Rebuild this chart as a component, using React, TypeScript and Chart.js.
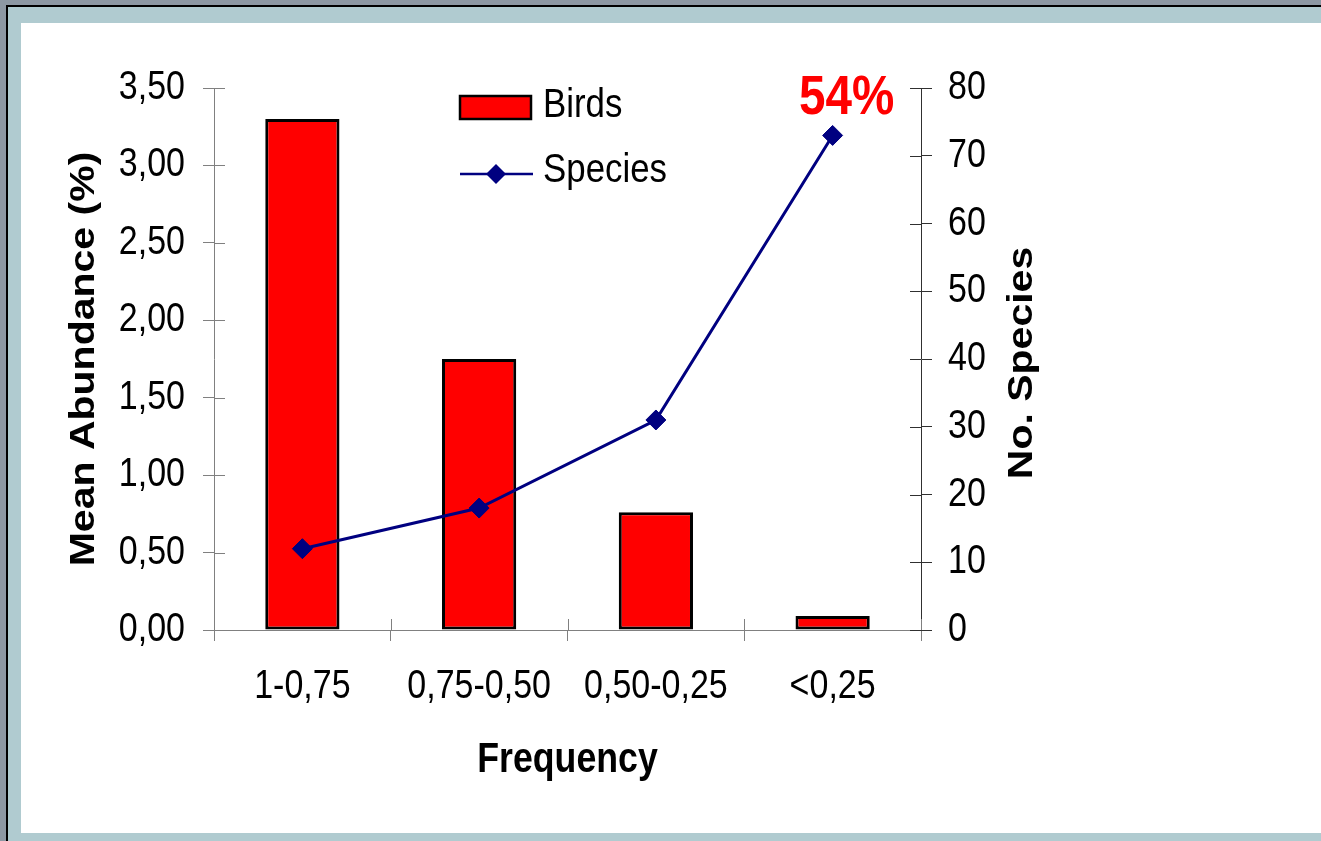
import React, { useEffect, useRef } from "react";
import { Chart, registerables } from "chart.js";

Chart.register(...registerables);

const categories = ["1-0,75", "0,75-0,50", "0,50-0,25", "<0,25"];
const birds = [3.3, 1.75, 0.76, 0.09];
const species = [12, 18, 31, 73];
const abundanceMin = 0;
const abundanceMax = 3.5;
const abundanceStep = 0.5;
const speciesMin = 0;
const speciesMax = 80;
const speciesStep = 10;
const highlightLabel = "54%";
const xTitle = "Frequency";
const yTitle = "Mean Abundance (%)";
const y1Title = "No. Species";
const legendLabels = ["Birds", "Species"];

const SANS = '"Liberation Sans", Arial, sans-serif';
const NAVY = "#000080";
const RED = "#ff0000";
const SQUISH = 0.85;

// Condensed text: every horizontal label is drawn 85% as wide, like the original.
const condensePlugin = {
  id: "condense",
  beforeDraw(chart: any) {
    const ctx = chart.ctx;
    if (ctx.__origFillText) return;
    const orig = ctx.fillText.bind(ctx);
    ctx.__origFillText = orig;
    ctx.fillText = (text: string, x: number, y: number) => {
      ctx.save();
      ctx.translate(x, y);
      ctx.scale(SQUISH, 1);
      orig(text, 0, 0);
      ctx.restore();
    };
  },
};

const decorPlugin = {
  id: "decor",
  afterDraw(chart: any) {
    const { ctx, chartArea } = chart;
    const sy = chart.scales.y;
    const sy1 = chart.scales.y1;
    const sx = chart.scales.x;
    ctx.save();
    ctx.lineWidth = 1;
    ctx.strokeStyle = "#808080";
    sy.ticks.forEach((t: any, i: number) => {
      const y = Math.round(sy.getPixelForTick(i)) + 0.5;
      ctx.beginPath();
      ctx.moveTo(chartArea.left, y);
      ctx.lineTo(chartArea.left + 11, y);
      ctx.stroke();
    });
    ctx.strokeStyle = "#303030";
    sy1.ticks.forEach((t: any, i: number) => {
      const y = Math.round(sy1.getPixelForTick(i)) + 0.5;
      ctx.beginPath();
      ctx.moveTo(chartArea.right - 11, y);
      ctx.lineTo(chartArea.right, y);
      ctx.stroke();
    });
    ctx.strokeStyle = "#808080";
    const n = sx.ticks.length;
    for (let i = 0; i <= n; i++) {
      const x = Math.round(sx.left + ((sx.right - sx.left) * i) / n) + 0.5;
      ctx.beginPath();
      ctx.moveTo(x, chartArea.bottom - 11);
      ctx.lineTo(x, chartArea.bottom);
      ctx.stroke();
    }

    const meta = chart.getDatasetMeta(1);
    const last = meta.data[meta.data.length - 1];
    ctx.fillStyle = RED;
    ctx.font = `bold 56px ${SANS}`;
    ctx.textAlign = "center";
    ctx.textBaseline = "alphabetic";
    ctx.fillText(highlightLabel, last.x + 14, last.y - 21);

    const lx = 439;
    ctx.fillStyle = RED;
    ctx.fillRect(lx, 73, 71, 23);
    ctx.strokeStyle = "#000";
    ctx.lineWidth = 2.5;
    ctx.strokeRect(lx, 73, 71, 23);
    ctx.strokeStyle = NAVY;
    ctx.lineWidth = 2.5;
    ctx.beginPath();
    ctx.moveTo(lx, 151);
    ctx.lineTo(lx + 73, 151);
    ctx.stroke();
    ctx.fillStyle = NAVY;
    ctx.beginPath();
    ctx.moveTo(lx + 36, 141);
    ctx.lineTo(lx + 46, 151);
    ctx.lineTo(lx + 36, 161);
    ctx.lineTo(lx + 26, 151);
    ctx.closePath();
    ctx.fill();
    ctx.fillStyle = "#000";
    ctx.font = `41px ${SANS}`;
    ctx.textAlign = "left";
    ctx.textBaseline = "middle";
    ctx.fillText(legendLabels[0], 522, 83);
    ctx.fillText(legendLabels[1], 522, 148);

    const orig = ctx.__origFillText || ctx.fillText.bind(ctx);
    const cy = (chartArea.top + chartArea.bottom) / 2;
    ctx.font = `bold 41px ${SANS}`;
    ctx.textAlign = "center";
    ctx.textBaseline = "middle";
    ctx.save();
    ctx.translate(63, cy);
    ctx.rotate(-Math.PI / 2);
    ctx.scale(1, SQUISH);
    orig(yTitle, 0, 0);
    ctx.restore();
    ctx.save();
    ctx.translate(1001, cy + 4);
    ctx.rotate(-Math.PI / 2);
    ctx.scale(1, SQUISH);
    orig(y1Title, 0, 0);
    ctx.restore();
    ctx.restore();
  },
};

function ChartView() {
  const ref = useRef<HTMLCanvasElement | null>(null);
  useEffect(() => {
    if (!ref.current) return;
    const tickFont = { family: SANS, size: 40 };
    const chart = new Chart(ref.current, {
      type: "bar",
      data: {
        labels: categories,
        datasets: [
          {
            type: "bar",
            label: legendLabels[0],
            data: birds,
            yAxisID: "y",
            backgroundColor: RED,
            borderColor: "#000",
            borderWidth: 3,
            borderSkipped: false,
            barPercentage: 0.42,
            categoryPercentage: 1,
            order: 2,
          } as any,
          {
            type: "line",
            label: legendLabels[1],
            data: species,
            yAxisID: "y1",
            borderColor: NAVY,
            borderWidth: 3,
            backgroundColor: NAVY,
            pointStyle: "rectRot",
            pointRadius: 10,
            pointBackgroundColor: NAVY,
            pointBorderColor: NAVY,
            pointBorderWidth: 1,
            tension: 0,
            fill: false,
            order: 1,
          } as any,
        ],
      },
      options: {
        responsive: false,
        maintainAspectRatio: false,
        animation: false,
        events: [],
        layout: { padding: { top: 65, left: 0, right: 0, bottom: 0 } },
        plugins: { legend: { display: false }, tooltip: { enabled: false } },
        scales: {
          x: {
            type: "category",
            offset: true,
            grid: { offset: true, drawOnChartArea: false, tickLength: 11, color: "#808080", lineWidth: 1 },
            border: { color: "#808080", width: 1 },
            ticks: { color: "#000", font: tickFont, padding: 22, maxRotation: 0, autoSkip: false },
            title: {
              display: true,
              text: xTitle,
              color: "#000",
              font: { family: SANS, size: 42, weight: "bold" },
              padding: { top: 0, bottom: 47 },
            },
            afterFit: (s: any) => {
              s.height = 203;
            },
          },
          y: {
            type: "linear",
            position: "left",
            min: abundanceMin,
            max: abundanceMax,
            grid: { drawOnChartArea: false, tickLength: 11, color: "#808080" },
            border: { color: "#808080", width: 1 },
            ticks: {
              stepSize: abundanceStep,
              color: "#000",
              font: tickFont,
              padding: 18,
              callback: (v: any) => Number(v).toFixed(2).replace(".", ","),
            },
            afterFit: (s: any) => {
              s.width = 193;
            },
          },
          y1: {
            type: "linear",
            position: "right",
            min: speciesMin,
            max: speciesMax,
            grid: { drawOnChartArea: false, tickLength: 11, color: "#303030" },
            border: { color: "#303030", width: 1 },
            ticks: { stepSize: speciesStep, color: "#000", font: tickFont, padding: 16 },
            afterFit: (s: any) => {
              s.width = 400;
            },
          },
        },
      } as any,
      plugins: [condensePlugin, decorPlugin],
    });
    return () => chart.destroy();
  }, []);
  return (
    <canvas
      ref={ref}
      width={1300}
      height={810}
      style={{ position: "absolute", left: 21, top: 23, width: 1300, height: 810, display: "block" }}
    />
  );
}

export default function App() {
  return (
    <div
      style={{
        position: "fixed",
        left: 0,
        top: 0,
        width: 1321,
        height: 841,
        background: "#b0cbd0",
        overflow: "hidden",
      }}
    >
      <div style={{ position: "absolute", left: 0, top: 0, width: 1321, height: 5, background: "#8d98a3" }} />
      <div style={{ position: "absolute", left: 0, top: 0, width: 6, height: 841, background: "#8d98a3" }} />
      <div style={{ position: "absolute", left: 6, top: 5, width: 1315, height: 2, background: "#000" }} />
      <div style={{ position: "absolute", left: 6, top: 5, width: 2, height: 836, background: "#000" }} />
      <div style={{ position: "absolute", left: 21, top: 23, width: 1300, height: 810, background: "#fff" }} />
      <ChartView />
    </div>
  );
}
